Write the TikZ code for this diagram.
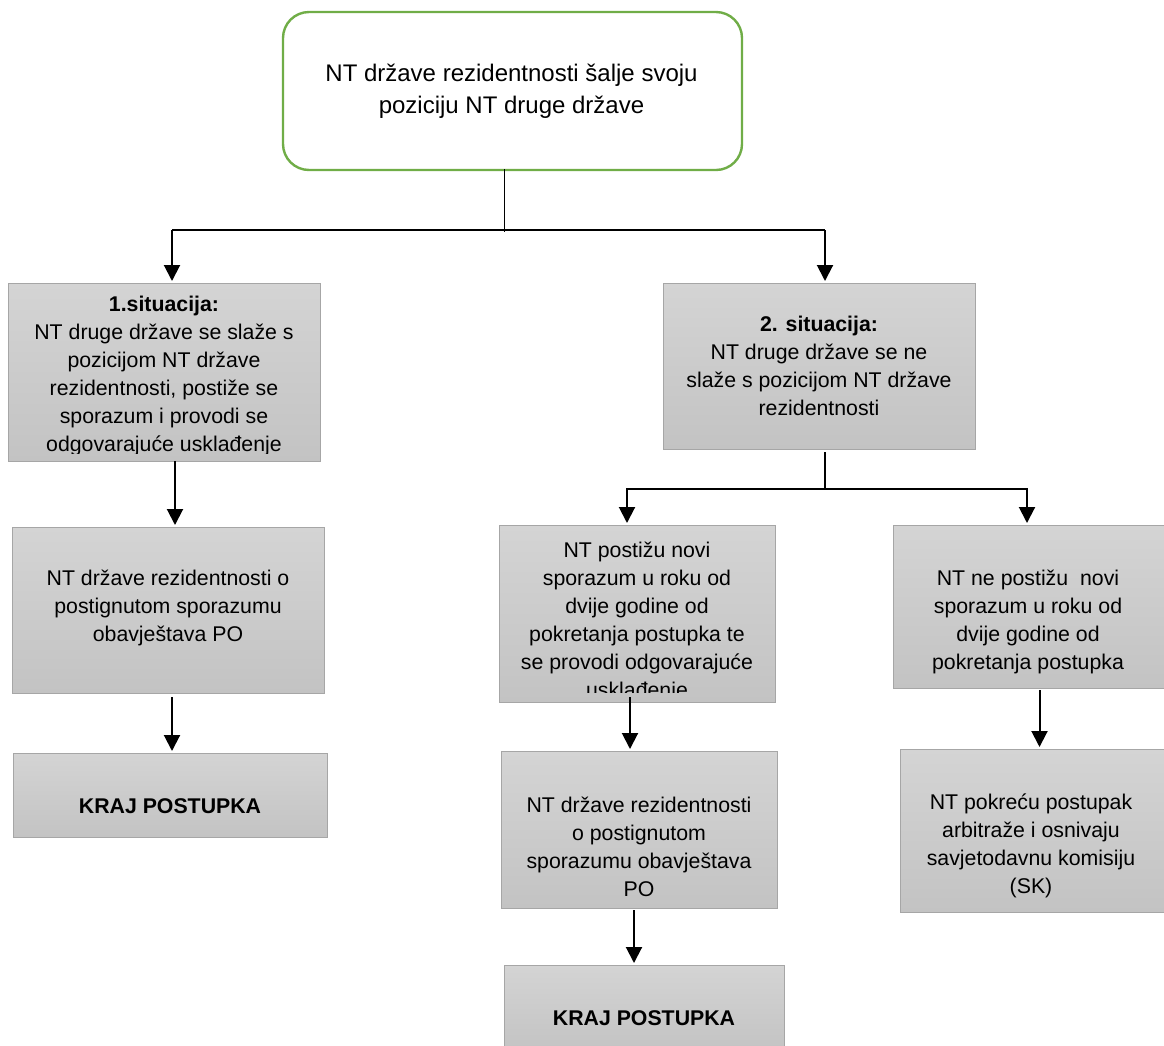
\documentclass[tikz,border=0pt]{standalone}
\usepackage{fontspec}
\setmainfont{Liberation Sans}
\usetikzlibrary{arrows.meta}
\definecolor{boxline}{HTML}{A6A6A6}
\definecolor{boxtop}{HTML}{D4D4D4}
\definecolor{boxbot}{HTML}{C3C3C3}
\definecolor{grn}{HTML}{70AD47}
\tikzset{
  graybox/.style={draw=boxline, line width=1pt, top color=boxtop, bottom color=boxbot, anchor=north west, inner sep=0pt, outer sep=0pt},
  topbox/.style={draw=grn, line width=2.4pt, rounded corners=26pt, fill=white, anchor=north west, inner sep=0pt, outer sep=0pt},
  txt/.style={align=center, font=\fontsize{21.3}{28}\selectfont, inner sep=0pt},
  toptxt/.style={align=center, font=\fontsize{24}{32}\selectfont, inner sep=0pt},
  arr/.style={line width=2pt, -{Triangle[width=16pt,length=16pt]}, shorten >=2pt},
  conn/.style={line width=1.2pt},
}
\newcommand{\gbox}[5]{\node[graybox, minimum width={#4-#2}, minimum height={#5-#3}] (#1) at (#2,#3) {};}
\begin{document}
\begin{tikzpicture}[x=1pt,y=-1pt]
\useasboundingbox (0,0) rectangle (1164,1045);
% top box
\node[topbox, minimum width=459, minimum height=158] (top) at (283,12) {};
\node[toptxt] (topt) at (511.5,91) {NT države rezidentnosti šalje svoju\\poziciju NT druge države};
% gray boxes
\gbox{b1}{8}{283}{320}{461}
\gbox{b2}{12}{527}{324}{693}
\gbox{b3}{13}{753}{327}{837}
\gbox{s2}{663}{283}{975}{449}
\gbox{m1}{499}{525}{775}{702}
\gbox{m2}{501}{751}{777}{908}
\gbox{m3}{504}{965}{784}{1052}
\gbox{r2}{893}{525}{1164}{688}
\gbox{r3}{900}{749}{1164}{912}
% texts
\begin{scope}
  \clip (b1.north west) rectangle ([yshift=8pt]b1.south east);
  \node[txt] (b1t) at (164,376) {\textbf{1.situacija:}\\NT druge države se slaže s\\pozicijom NT države\\rezidentnosti, postiže se\\sporazum i provodi se\\odgovarajuće usklađenje};
\end{scope}
\node[txt] (b2t) at (168,608) {NT države rezidentnosti o\\postignutom sporazumu\\obavještava PO};
\node[txt] (b3t) at (170,806) {\textbf{KRAJ POSTUPKA}};
\node[txt] (s2t) at (819,366) {\textbf{2. situacija:}\\NT druge države se ne\\slaže s pozicijom NT države\\rezidentnosti};
\begin{scope}
  \clip (m1.north west) rectangle ([yshift=10pt]m1.south east);
  \node[txt] (m1t) at (637,622) {NT postižu novi\\sporazum u roku od\\dvije godine od\\pokretanja postupka te\\se provodi odgovarajuće\\usklađenje};
\end{scope}
\node[txt] (m2t) at (639,847) {NT države rezidentnosti\\o postignutom\\sporazumu obavještava\\PO};
\node[txt] (m3t) at (644,1018) {\textbf{KRAJ POSTUPKA}};
\node[txt] (r2t) at (1028,622) {NT ne postižu\ \ novi\\sporazum u roku od\\dvije godine od\\pokretanja postupka};
\node[txt] (r3t) at (1031,846) {NT pokreću postupak\\arbitraže i osnivaju\\savjetodavnu komisiju\\(SK)};
% connectors level 1
\coordinate (j1) at (504,230);
\coordinate (j1l) at (172,230);
\coordinate (j1r) at (825,230);
\draw[line width=1pt] ([xshift=-8.5pt,yshift=1pt]top.south) -- ([yshift=-2pt]j1);
\draw[conn] (j1l) -- (j1r);
\draw[arr] (j1l) -- (j1l |- b1.north);
\draw[arr] (j1r) -- (j1r |- s2.north);
% left column
\draw[arr] ([xshift=11pt]b1.south) -- ([xshift=11pt]b1.south |- b2.north);
\draw[arr] ([xshift=4pt,yshift=-4pt]b2.south) -- ([xshift=4pt]b2.south |- b3.north);
% right branch
\coordinate (j2) at (825,489);
\coordinate (j2l) at (627,489);
\coordinate (j2r) at (1027,489);
\draw[conn] ([xshift=6pt,yshift=-3pt]s2.south) -- (j2);
\draw[conn] (j2l) -- (j2r);
\draw[arr] ([yshift=0.6pt]j2l) -- (j2l |- m1.north);
\draw[arr] ([yshift=0.6pt]j2r) -- (j2r |- r2.north);
\draw[arr] ([xshift=-7pt,yshift=5pt]m1.south) -- ([xshift=-7pt]m1.south |- m2.north);
\draw[arr] ([xshift=-5pt,yshift=-2pt]m2.south) -- ([xshift=-5pt]m2.south |- m3.north);
\draw[arr] ([xshift=11pt,yshift=-2pt]r2.south) -- ([xshift=11pt]r2.south |- r3.north);
\end{tikzpicture}
\end{document}
